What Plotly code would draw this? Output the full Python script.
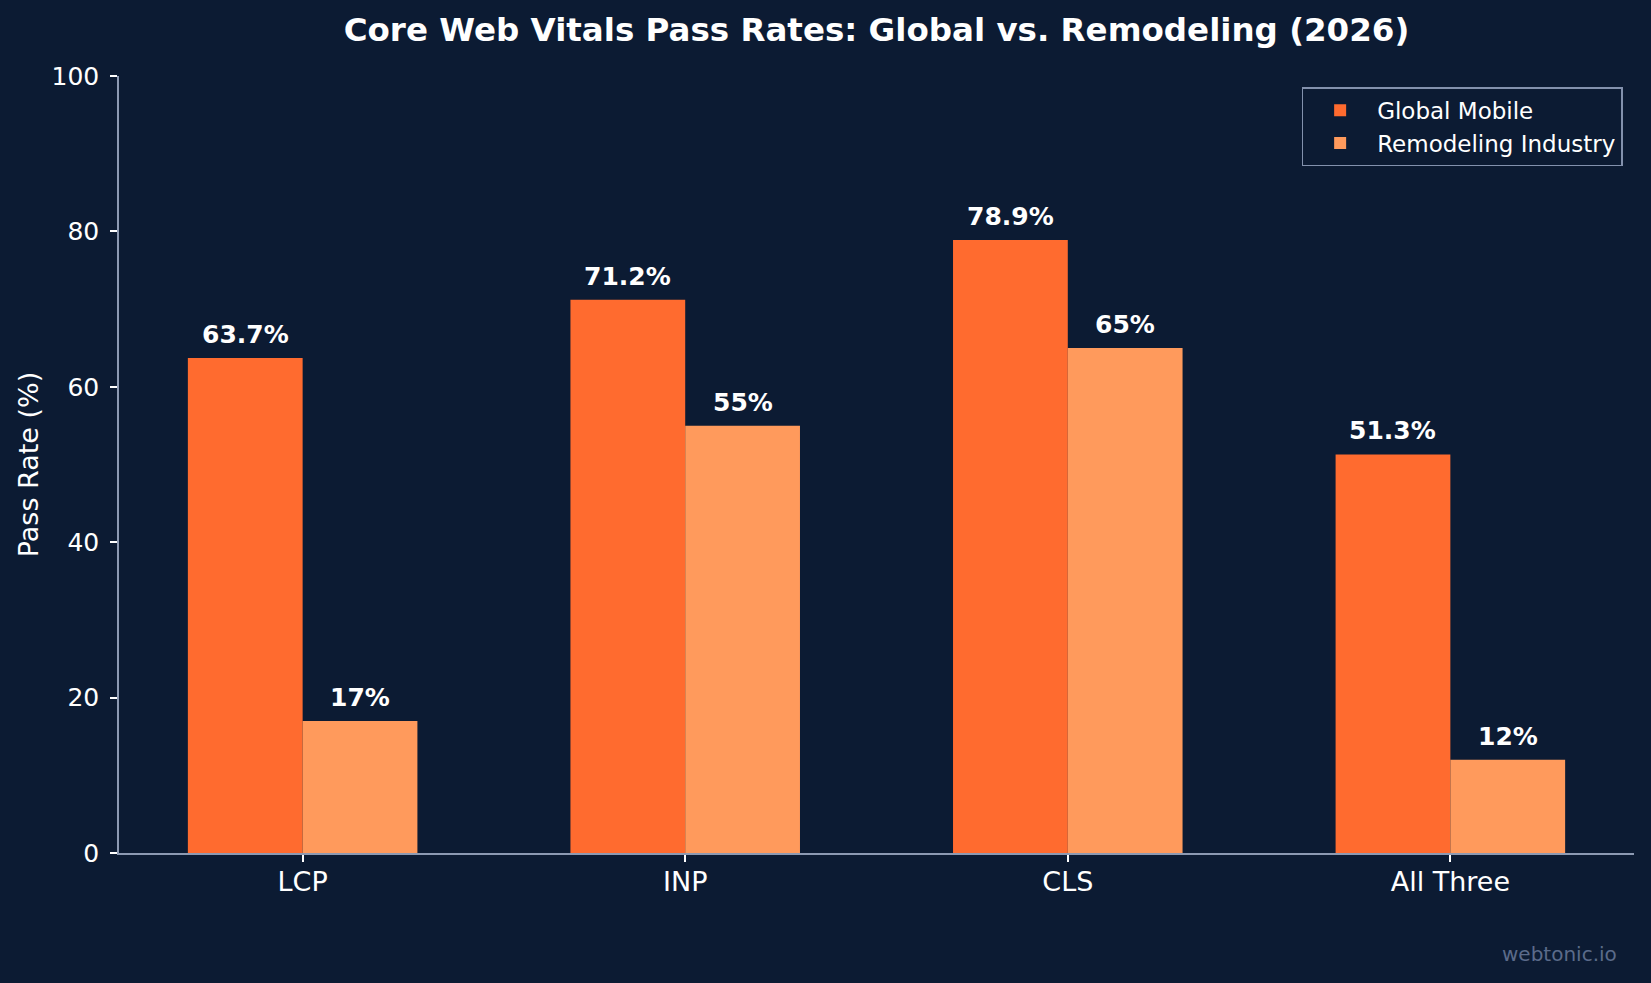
import numpy as np
import plotly.graph_objects as go

categories = ["LCP", "INP", "CLS", "All Three"]
global_mobile = [63.7, 71.2, 78.9, 51.3]
remodeling = [17, 55, 65, 12]
series_names = ["Global Mobile", "Remodeling Industry"]
y_ticks = [0, 20, 40, 60, 80, 100]

BG = "#0c1b33"
C_GLOBAL = "#ff6b2f"
C_REMOD = "#ff9a5c"
SPINE = "#8d9ab3"
FONT = "DejaVu Sans"

idx = np.arange(len(categories))
w = 0.3

fig = go.Figure()
fig.add_bar(x=idx - w / 2, y=global_mobile, width=w, name=series_names[0],
            marker=dict(color=C_GLOBAL, line=dict(width=0)))
fig.add_bar(x=idx + w / 2, y=remodeling, width=w, name=series_names[1],
            marker=dict(color=C_REMOD, line=dict(width=0)))

def fmt(v):
    return f"{v:g}%"

annotations = []
for xs, vals in ((idx - w / 2, global_mobile), (idx + w / 2, remodeling)):
    for x, v in zip(xs, vals):
        annotations.append(dict(x=x, y=v, xref="x", yref="y", text=fmt(v),
                                showarrow=False, yanchor="bottom", xanchor="center",
                                yshift=7,
                                font=dict(family=FONT, size=25, color="white", weight="bold")))
annotations.append(dict(x=0.990, y=-0.148, xref="paper", yref="paper", text="webtonic.io",
                        showarrow=False, xanchor="right", yanchor="bottom",
                        font=dict(family=FONT, size=20, color="#5b6b8a")))

fig.update_layout(
    width=1651, height=983,
    paper_bgcolor=BG, plot_bgcolor=BG,
    margin=dict(l=119, r=17, t=76, b=130, autoexpand=False),
    font=dict(family=FONT, color="white"),
    barmode="overlay",
    showlegend=True,
    title=dict(text="<b>Core Web Vitals Pass Rates: Global vs. Remodeling (2026)</b>",
               x=0.5, xref="paper", xanchor="center", y=0.97, yref="container", yanchor="middle",
               font=dict(family=FONT, size=32.5, color="white")),
    legend=dict(x=0.9925, y=0.9856, xanchor="right", yanchor="top",
                bgcolor=BG, bordercolor="#8391ad", borderwidth=1.5,
                font=dict(family=FONT, size=23, color="white"),
                itemwidth=64, tracegroupgap=4),
    annotations=annotations,
    xaxis=dict(range=[-0.48, 3.48], tickmode="array", tickvals=idx, ticktext=categories,
               showgrid=False, zeroline=False, showline=True, linecolor=SPINE, linewidth=1.5,
               ticks="outside", ticklen=7, tickwidth=1.5, tickcolor="white",
               tickfont=dict(family=FONT, size=27, color="white"), ticklabelstandoff=-3),
    yaxis=dict(range=[0, 100], tickmode="array", tickvals=y_ticks,
               showgrid=False, zeroline=False, showline=True, linecolor=SPINE, linewidth=1.5,
               ticks="outside", ticklen=7, tickwidth=1.5, tickcolor="white",
               tickfont=dict(family=FONT, size=25, color="white"), ticklabelstandoff=6,
               title=dict(text="Pass Rate (%)", font=dict(family=FONT, size=27, color="white"),
                          standoff=5)),
)

fig.write_html("out.html")
